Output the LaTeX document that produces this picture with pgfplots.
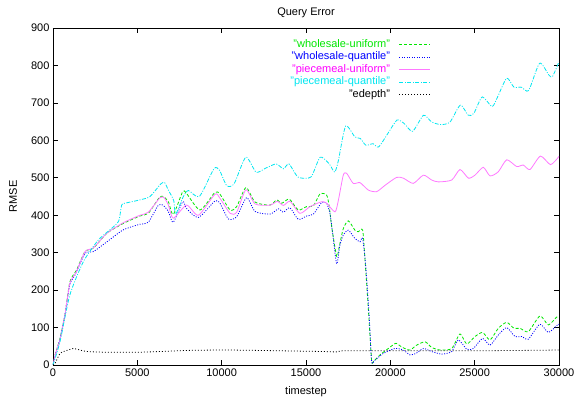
\documentclass[border=0pt]{standalone}
\usepackage{fontspec}
\setmainfont{Liberation Sans}
\usepackage{pgfplots}
\pgfplotsset{compat=1.18}

\definecolor{gpgreen}{RGB}{0,230,0}
\definecolor{gpblue}{RGB}{0,0,255}
\definecolor{gppink}{RGB}{255,120,255}
\definecolor{gppinktext}{RGB}{255,0,255}
\definecolor{gpcyan}{RGB}{0,230,240}

\begin{document}
\begin{tikzpicture}
\begin{axis}[
  scale only axis,
  width=506pt, height=337pt,
  xmin=0, xmax=30000, ymin=0, ymax=900,
  xtick={0,5000,...,30000},
  ytick={0,100,...,900},
  scaled ticks=false,
  tick align=inside,
  major tick length=5pt,
  minor tick num=0,
  /pgf/number format/assume math mode=true,
  /pgf/number format/1000 sep={},
  tick label style={font=\fontsize{11}{13}\selectfont},
  label style={font=\fontsize{11}{13}\selectfont},
  axis line style={line width=0.8pt},
  every tick/.style={black, line width=0.6pt},
  title={Query Error},
  title style={at={(axis description cs:0.5,1)}, anchor=base, yshift=6pt, font=\fontsize{11}{13}\selectfont},
  xlabel={timestep},
  xlabel style={at={(axis description cs:0.5,-0.089)}, anchor=base},
  ylabel={RMSE},
  ylabel style={at={(axis description cs:-0.079,0.5)}, anchor=center},
  legend plot pos=right,
  legend cell align=right,
  legend image code/.code={\path (0pt,0pt); \draw[#1] (8pt,0pt) -- (39pt,0pt);},
  legend style={draw=none, fill=none, at={(axis description cs:0.753,0.976)}, anchor=north east,
    font=\fontsize{11}{13}\selectfont,
    nodes={inner sep=1pt, text height=8pt, text depth=2.5pt}},
  every axis plot/.append style={line width=0.8pt, smooth, tension=0.4},
]
% wholesale-uniform
\addplot[gpgreen, dash pattern=on 3pt off 2pt] coordinates {
(0,0)(150,30)(415,71)(710,134)(1000,222)(1400,254)(1900,303)(2400,312)(3200,352)(4170,378)
(5160,398)(5650,405)(6300,447)(6540,450)(6840,436)(7130,402)(7690,463)(7920,458)(8720,414)
(9600,461)(9900,456)(10500,414)(10890,423)(11440,474)(11980,435)(12870,427)(13260,441)
(13560,432)(14010,443)(14540,414)(15040,423)(15440,425)(15830,457)(16220,454)(16380,423)
(16520,370)(16820,290)(16970,316)(17210,364)(17510,385)(17900,360)(18100,356)(18360,360)
(18500,280)(18700,147)(18890,13)(18990,9)(19390,27)(19880,44)(20330,58)(20670,48)(21160,40)
(21560,53)(22060,62)(22450,47)(22950,40)(23640,44)(24130,83)(24530,56)(25020,76)(25470,87)
(25910,67)(26400,98)(26900,114)(27330,98)(27690,98)(28180,89)(28870,131)(29370,107)
(29860,128)(30000,128)};
\addlegendentry{\textcolor{gpgreen}{"wholesale-uniform"}}
% wholesale-quantile
\addplot[gpblue, dash pattern=on 1pt off 1.5pt] coordinates {
(0,0)(150,30)(415,70)(710,135)(1000,215)(1300,240)(1900,298)(2400,303)(3200,329)(4170,361)
(5160,376)(5650,381)(6250,427)(6540,426)(6840,410)(7130,381)(7690,436)(7920,418)(8620,394)
(9600,438)(9900,432)(10400,390)(10890,396)(11480,447)(11980,410)(12870,403)(13360,417)
(13660,408)(14050,420)(14540,389)(15040,398)(15440,403)(15930,434)(16220,432)(16420,405)
(16580,352)(16820,270)(17010,320)(17210,347)(17510,360)(17900,338)(18200,329)(18360,338)
(18560,254)(18760,120)(18890,9)(19090,13)(19590,31)(20270,44)(20770,40)(21160,27)(21520,31)
(21960,44)(22450,36)(23050,29)(23640,36)(24030,67)(24530,42)(24920,44)(25470,71)(25910,53)
(26400,80)(26900,100)(27390,76)(27790,76)(28180,69)(28870,109)(29370,87)(29960,109)(30000,105)};
\addlegendentry{\textcolor{gpblue}{"wholesale-quantile"}}
% piecemeal-uniform
\addplot[gppink] coordinates {
(0,0)(150,30)(415,68)(710,135)(1000,218)(1400,250)(1900,303)(2400,313)(3200,352)(4170,380)
(5160,400)(5650,408)(6350,447)(6600,446)(6840,427)(7130,392)(7920,427)(8620,400)(9600,456)
(9900,445)(10500,405)(10890,408)(11440,468)(11980,430)(12870,427)(13300,437)(13660,426)
(14050,437)(14640,405)(15240,423)(15930,436)(16220,432)(16720,409)(16920,440)(17210,507)
(17410,512)(17800,485)(18200,487)(18700,467)(19190,463)(19690,480)(20370,501)(20770,499)
(21360,485)(21960,507)(22450,494)(22850,489)(23640,494)(24130,522)(24630,499)(25020,507)
(25510,528)(25910,505)(26400,516)(26900,548)(27490,530)(27880,534)(28280,522)(28900,558)
(29500,535)(30000,557)};
\addlegendentry{\textcolor{gppinktext}{"piecemeal-uniform"}}
% piecemeal-quantile
\addplot[gpcyan, dash pattern=on 4pt off 1.5pt on 1pt off 1.5pt] coordinates {
(0,0)(415,62)(1000,187)(1800,276)(2690,334)(3480,365)(3900,385)(4070,427)(4270,432)
(5160,441)(5750,450)(6400,484)(6620,487)(6840,467)(7160,439)(7270,403)(7730,450)(8030,466)
(8680,450)(9540,524)(9870,520)(10300,479)(10740,484)(11430,555)(12040,515)(12580,525)
(13230,537)(13660,524)(13990,537)(14530,502)(15290,502)(15840,555)(16380,537)(16700,515)
(16920,546)(17350,638)(17900,609)(18220,605)(18550,587)(18980,591)(19300,582)(19850,618)
(20390,654)(20820,645)(21320,624)(21970,667)(22450,649)(23000,642)(23540,649)(24150,694)
(24620,667)(24950,672)(25450,716)(26030,690)(26360,716)(26900,766)(27330,742)(27770,742)
(28200,733)(28850,806)(29390,775)(29610,770)(30000,810)};
\addlegendentry{\textcolor{gpcyan}{"piecemeal-quantile"}}
% edepth
\addplot[black, dash pattern=on 1pt off 2pt] coordinates {
(0,0)(120,4)(415,31)(700,37)(1200,44)(1600,40)(2000,36)(3200,34)(5000,34)(6350,36)(8100,39)
(10100,40)(12100,39)(14650,37)(16000,36)(16800,35)(17200,38)(19000,38)(22000,38)(25000,38)
(28000,39)(30000,40)};
\addlegendentry{"edepth"}
\end{axis}
\pgfresetboundingbox
\path[use as bounding box] (-53pt,-38pt) rectangle (521pt,365pt);
\end{tikzpicture}
\end{document}
